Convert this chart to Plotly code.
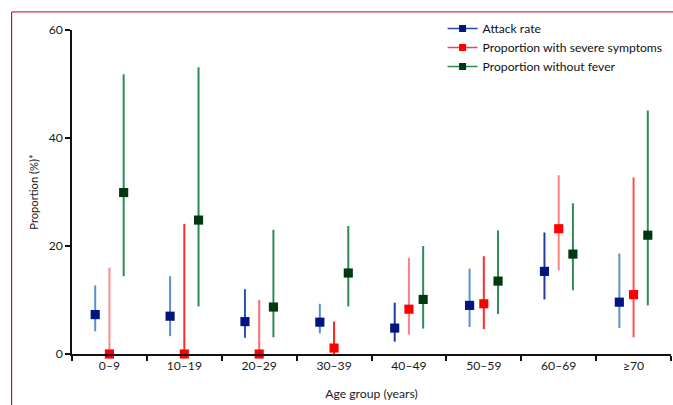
import plotly.graph_objects as go

categories = ["0–9", "10–19", "20–29", "30–39", "40–49", "50–59", "60–69", "≥70"]

attack_rate = [7.3, 7.0, 6.0, 5.9, 4.8, 9.0, 15.3, 9.6]
attack_lo = [4.2, 3.3, 3.0, 3.8, 2.3, 5.0, 10.1, 4.8]
attack_hi = [12.7, 14.4, 12.0, 9.3, 9.5, 15.8, 22.5, 18.6]

severe = [0.0, 0.0, 0.0, 1.1, 8.3, 9.3, 23.2, 11.0]
severe_lo = [0.0, 0.0, 0.0, 0.0, 3.6, 4.6, 15.5, 3.1]
severe_hi = [16.0, 24.1, 10.0, 6.0, 17.8, 18.1, 33.1, 32.7]

nofever = [29.9, 24.8, 8.7, 15.0, 10.1, 13.5, 18.5, 22.0]
nofever_lo = [14.4, 8.8, 3.1, 8.8, 4.7, 7.4, 11.8, 9.0]
nofever_hi = [51.8, 53.1, 23.0, 23.7, 20.0, 22.9, 27.9, 45.1]

series_names = ["Attack rate", "Proportion with severe symptoms", "Proportion without fever"]

# styles
marker_colors = ["#001580", "#ff0000", "#003810"]
legend_line_colors = ["#2a4aa8", "#ff4040", "#2e8b57"]
ci_colors = [
    ["#5b8fd0", "#5b8fd0", "#2a50b0", "#5b8fd0", "#1f3aa0", "#5b8fd0", "#1f3aa0", "#5b8fd0"],
    ["#ff8a8a", "#ff2a2a", "#ff6a6a", "#ff2020", "#ff8080", "#ff2a2a", "#ff8080", "#ff5050"],
    ["#2e8b57"] * 8,
]
offsets = [-0.19, 0.0, 0.19]

data = [
    (attack_rate, attack_lo, attack_hi),
    (severe, severe_lo, severe_hi),
    (nofever, nofever_lo, nofever_hi),
]

# layout designed in reference pixels (673x405), scaled to the render size
S = 683 / 673
W, H = 683, 411
L, R, T, B = 71 * S, 12 * S, 30 * S, 52 * S
pw, ph = W - L - R, H - T - B

def px_x(p):
    return (p * S - L) / pw

def px_y(p):
    return (H - B - p * S) / ph

FONT = "Lato, 'Open Sans', sans-serif"
fs = 12 * S
fig = go.Figure()

for s, (vals, lo, hi) in enumerate(data):
    for i, v in enumerate(vals):
        fig.add_trace(go.Scatter(
            x=[i + offsets[s]], y=[v], mode="markers",
            marker=dict(symbol="square", size=9 * S, color=marker_colors[s]),
            error_y=dict(type="data", symmetric=False,
                         array=[hi[i] - v], arrayminus=[v - lo[i]],
                         color=ci_colors[s][i], thickness=2, width=0),
            showlegend=False, cliponaxis=False, hoverinfo="skip",
        ))

for s, name in enumerate(series_names):
    fig.add_trace(go.Scatter(
        x=[None], y=[None], mode="lines+markers", name=name,
        line=dict(color=legend_line_colors[s], width=1.5),
        marker=dict(symbol="square", size=7, color=marker_colors[s]),
    ))

frame = [
    (11.5, 12, 11.5, 405, "#c8102e"),
    (11.5, 12, 669.5, 12, "#d03048"),
    (669.5, 12, 669.5, 405, "#f2a6b6"),
]
shapes = [dict(type="line", xref="paper", yref="paper",
               x0=px_x(a), y0=px_y(b), x1=px_x(c), y1=px_y(d),
               line=dict(color=col, width=1.2)) for a, b, c, d, col in frame]

fig.update_layout(
    width=W, height=H,
    margin=dict(l=L, r=R, t=T, b=B),
    paper_bgcolor="white", plot_bgcolor="white",
    font=dict(family=FONT, size=fs, color="#1a1a1a"),
    shapes=shapes,
    legend=dict(x=px_x(436), y=px_y(14), xanchor="left", yanchor="top",
                font=dict(size=fs, color="#111111"), tracegroupgap=0,
                bgcolor="rgba(0,0,0,0)", itemwidth=30),
    xaxis=dict(
        range=[-0.5, 7.5], tickmode="array",
        tickvals=list(range(len(categories))), ticktext=categories,
        ticks="", showgrid=False, zeroline=False,
        showline=True, linecolor="#111111", linewidth=1.5,
        tickfont=dict(size=fs),
        minor=dict(tick0=-0.5, dtick=1, ticks="outside", ticklen=5,
                   tickcolor="#111111", tickwidth=1.5, showgrid=False),
        title=dict(text="Age group (years)", font=dict(size=fs), standoff=17 * S),
    ),
    yaxis=dict(
        range=[0, 60], tickvals=[0, 20, 40, 60],
        ticks="outside", ticklen=5, tickcolor="#111111", tickwidth=1.5,
        showgrid=False, zeroline=False,
        showline=True, linecolor="#111111", linewidth=1.5,
        tickfont=dict(size=fs),
        title=dict(text="Proportion (%)*", font=dict(size=11 * S), standoff=8 * S),
    ),
)

html = fig.to_html(config={"displayModeBar": False}, full_html=True)
html = html.replace("<head>", "<head><style>html,body{margin:0;padding:0;overflow:hidden;}</style>", 1)
with open("out.html", "w", encoding="utf-8") as f:
    f.write(html)
